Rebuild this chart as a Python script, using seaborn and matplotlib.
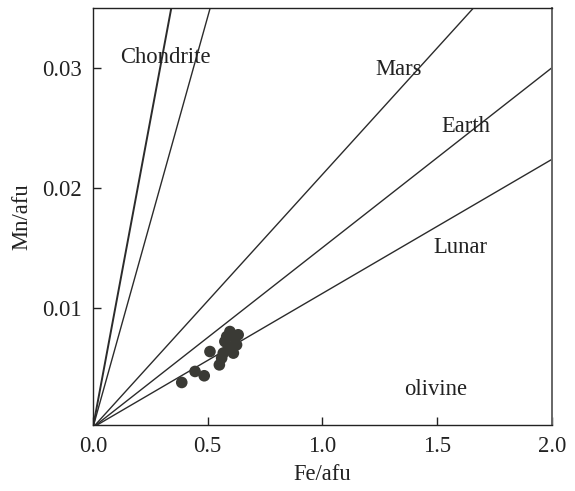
import numpy as np
import pandas as pd
import matplotlib
matplotlib.use("Agg")
import matplotlib.pyplot as plt
import seaborn as sns

# Mn/Fe reference trends (slope of Mn/afu vs Fe/afu)
trend_names = ["Chondrite-a", "Chondrite-b", "Mars", "Earth", "Lunar"]
trend_slopes = [0.1025, 0.0685, 0.0211, 0.0150, 0.01118]
trend_widths = [1.4, 1.0, 1.0, 1.0, 1.0]

# Measured olivine compositions
fe_afu = [0.387, 0.445, 0.485, 0.510, 0.551, 0.597, 0.575, 0.590, 0.619,
          0.626, 0.612, 0.568, 0.633, 0.583, 0.561]
mn_afu = [0.00375, 0.00467, 0.00431, 0.00633, 0.00522, 0.00800, 0.00717,
          0.00675, 0.00745, 0.00689, 0.00620, 0.00620, 0.00773, 0.00758,
          0.00578]

# Trend labels and their positions
label_texts = ["Chondrite", "Mars", "Earth", "Lunar", "olivine"]
label_x = [0.317, 1.334, 1.625, 1.60, 1.494]
label_y = [0.0309, 0.0299, 0.0251, 0.0150, 0.00314]

FS = 16.3

sns.set_theme(style="white")
plt.rcParams["font.family"] = ["Liberation Serif", "DejaVu Serif"]

fig = plt.figure(figsize=(5.75, 4.91), dpi=100)
ax = fig.add_axes([0.1617, 0.1344, 0.7978, 0.8493])

x_span = np.array([0.0, 2.0])
for name, slope, lw in zip(trend_names, trend_slopes, trend_widths):
    df_line = pd.DataFrame({"x": x_span, "y": slope * x_span})
    sns.lineplot(data=df_line, x="x", y="y", ax=ax, color="#2b2b2b",
                 linewidth=lw, estimator=None, sort=False)

pts = pd.DataFrame({"Fe": fe_afu, "Mn": mn_afu})
sns.scatterplot(data=pts, x="Fe", y="Mn", ax=ax, s=70, color="#3a3a35",
                edgecolor="none", linewidth=0, zorder=3)

for t, x, y in zip(label_texts, label_x, label_y):
    ax.text(x, y, t, ha="center", va="center", fontsize=FS, color="#222222")

ax.set_xlim(0, 2.0)
ax.set_ylim(0.0002, 0.035)
ax.set_xticks([0.0, 0.5, 1.0, 1.5, 2.0])
ax.set_xticklabels(["0.0", "0.5", "1.0", "1.5", "2.0"])
ax.set_yticks([0.01, 0.02, 0.03])
ax.set_yticklabels(["0.01", "0.02", "0.03"])
ax.tick_params(axis="both", direction="in", length=6, width=1, color="#222222",
               labelsize=FS, labelcolor="#222222", pad=8,
               bottom=True, left=True)
ax.set_xlabel("Fe/afu", fontsize=FS, color="#222222", labelpad=5)
ax.set_ylabel("Mn/afu", fontsize=FS, color="#222222", labelpad=7)

for side, sp in ax.spines.items():
    sp.set_visible(True)
    sp.set_color("#222222")
    sp.set_linewidth(1.0)
ax.spines["right"].set_color("#666666")
ax.spines["right"].set_linewidth(1.4)
ax.grid(False)

fig.savefig("out.png", dpi=100)
